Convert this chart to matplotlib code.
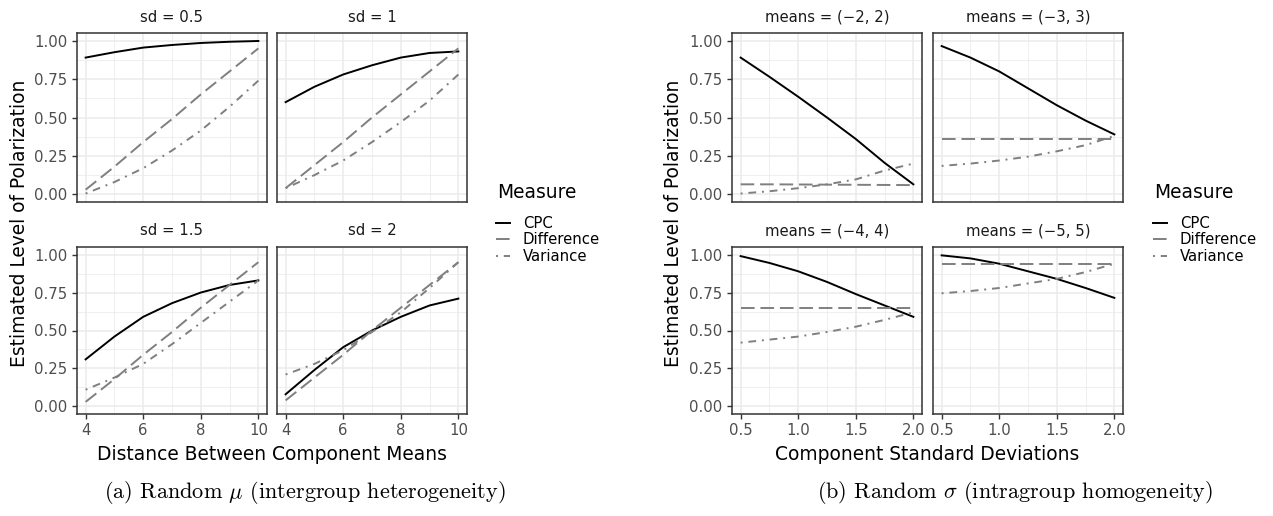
import matplotlib
matplotlib.use("Agg")
import matplotlib.pyplot as plt
from matplotlib.lines import Line2D

plt.rcParams['font.family'] = 'DejaVu Sans'
plt.rcParams['mathtext.fontset'] = 'cm'

# ---- data ----
dist = [4, 5, 6, 7, 8, 9, 10]
sds = [0.5, 0.75, 1.0, 1.25, 1.5, 1.75, 2.0]
measures = ["CPC", "Difference", "Variance"]

sd05_cpc = [0.89, 0.925, 0.955, 0.972, 0.985, 0.993, 0.998]
sd05_diff = [0.03, 0.18, 0.34, 0.49, 0.65, 0.80, 0.95]
sd05_var = [0.005, 0.08, 0.17, 0.285, 0.415, 0.57, 0.74]

sd1_cpc = [0.60, 0.70, 0.78, 0.84, 0.89, 0.92, 0.93]
sd1_diff = [0.04, 0.19, 0.34, 0.50, 0.65, 0.80, 0.95]
sd1_var = [0.04, 0.125, 0.22, 0.34, 0.47, 0.61, 0.78]

sd15_cpc = [0.31, 0.46, 0.59, 0.68, 0.75, 0.80, 0.83]
sd15_diff = [0.03, 0.18, 0.34, 0.49, 0.65, 0.80, 0.95]
sd15_var = [0.11, 0.19, 0.28, 0.41, 0.55, 0.69, 0.83]

sd2_cpc = [0.08, 0.24, 0.39, 0.50, 0.59, 0.665, 0.71]
sd2_diff = [0.04, 0.19, 0.34, 0.50, 0.65, 0.80, 0.95]
sd2_var = [0.21, 0.28, 0.37, 0.49, 0.62, 0.78, 0.95]

m2_cpc = [0.89, 0.765, 0.635, 0.50, 0.36, 0.205, 0.065]
m2_diff = [0.065, 0.065, 0.064, 0.063, 0.062, 0.061, 0.06]
m2_var = [0.005, 0.02, 0.04, 0.065, 0.097, 0.155, 0.20]

m3_cpc = [0.965, 0.89, 0.80, 0.69, 0.58, 0.48, 0.39]
m3_diff = [0.36, 0.36, 0.36, 0.36, 0.36, 0.36, 0.36]
m3_var = [0.185, 0.20, 0.22, 0.245, 0.28, 0.32, 0.38]

m4_cpc = [0.99, 0.945, 0.89, 0.82, 0.74, 0.665, 0.59]
m4_diff = [0.65, 0.65, 0.65, 0.65, 0.65, 0.65, 0.65]
m4_var = [0.42, 0.44, 0.46, 0.49, 0.525, 0.57, 0.62]

m5_cpc = [0.995, 0.975, 0.94, 0.89, 0.84, 0.78, 0.715]
m5_diff = [0.94, 0.94, 0.94, 0.94, 0.94, 0.94, 0.94]
m5_var = [0.745, 0.76, 0.78, 0.81, 0.84, 0.885, 0.94]

left_titles = ["sd = 0.5", "sd = 1", "sd = 1.5", "sd = 2"]
right_titles = ["means = (\u22122, 2)", "means = (\u22123, 3)",
                "means = (\u22124, 4)", "means = (\u22125, 5)"]

# ---- styling ----
W, H = 1273, 516
styles = {
    "CPC": dict(color="black", linestyle="-"),
    "Difference": dict(color="#7f7f7f", linestyle=(0, (7, 3))),
    "Variance": dict(color="#7f7f7f", linestyle=(0, (1, 3, 4, 3))),
}
LW = 1.4
SMALL = 10.7
BIG = 13.4

fig = plt.figure(figsize=(W / 100, H / 100), dpi=100)


def panel(px0, py0, px1, py1, x, series, title, xticks, xlim, show_x, show_y):
    ax = fig.add_axes([px0 / W, 1 - py1 / H, (px1 - px0) / W, (py1 - py0) / H])
    for name, vals in zip(measures, series):
        ax.plot(x, vals, lw=LW, **styles[name])
    ax.set_xlim(*xlim)
    ax.set_ylim(-0.05, 1.05)
    ax.set_xticks(xticks)
    ax.set_xticks([(a + b) / 2 for a, b in zip(xticks[:-1], xticks[1:])], minor=True)
    ax.set_yticks([0, 0.25, 0.5, 0.75, 1.0])
    ax.set_yticks([0.125, 0.375, 0.625, 0.875], minor=True)
    ax.grid(which="major", color="#ebebeb", lw=1.1)
    ax.grid(which="minor", color="#ebebeb", lw=0.55)
    ax.set_axisbelow(True)
    for s in ax.spines.values():
        s.set_color("#333333")
        s.set_linewidth(1.1)
    ax.tick_params(which="minor", length=0)
    ax.tick_params(which="major", length=3.8, width=1.0, color="#333333",
                   labelcolor="#4d4d4d", labelsize=SMALL, pad=3)
    if show_y:
        ax.set_yticklabels(["0.00", "0.25", "0.50", "0.75", "1.00"])
    else:
        ax.tick_params(axis="y", length=0, labelleft=False)
    if not show_x:
        ax.tick_params(axis="x", length=0, labelbottom=False)
    ax.text(0.5, 1 + 16 / (py1 - py0), title, transform=ax.transAxes,
            ha="center", va="center", fontsize=SMALL, color="#1a1a1a")
    return ax


left_series = [(sd05_cpc, sd05_diff, sd05_var), (sd1_cpc, sd1_diff, sd1_var),
               (sd15_cpc, sd15_diff, sd15_var), (sd2_cpc, sd2_diff, sd2_var)]
right_series = [(m2_cpc, m2_diff, m2_var), (m3_cpc, m3_diff, m3_var),
                (m4_cpc, m4_diff, m4_var), (m5_cpc, m5_diff, m5_var)]

cols_left = [(77, 267), (277, 467)]
cols_right = [(732, 922), (933, 1123)]
rows = [(33, 202), (247, 414)]

for i in range(4):
    r, c = divmod(i, 2)
    panel(cols_left[c][0], rows[r][0], cols_left[c][1], rows[r][1], dist,
          left_series[i], left_titles[i], [4, 6, 8, 10], (3.7, 10.3),
          show_x=(r == 1), show_y=(c == 0))
    ax = panel(cols_right[c][0], rows[r][0], cols_right[c][1], rows[r][1], sds,
               right_series[i], right_titles[i], [0.5, 1.0, 1.5, 2.0], (0.425, 2.075),
               show_x=(r == 1), show_y=(c == 0))
    if r == 1:
        ax.set_xticklabels(["0.5", "1.0", "1.5", "2.0"])

# axis titles
fig.text(20 / W, 1 - 223 / H, "Estimated Level of Polarization", rotation=90,
         ha="center", va="center", fontsize=BIG)
fig.text(673 / W, 1 - 223 / H, "Estimated Level of Polarization", rotation=90,
         ha="center", va="center", fontsize=BIG)
fig.text(272 / W, 1 - 455 / H, "Distance Between Component Means",
         ha="center", va="center", fontsize=BIG)
fig.text(927 / W, 1 - 455 / H, "Component Standard Deviations",
         ha="center", va="center", fontsize=BIG)

# legends (title placed separately to get ggplot's gap under it)
handles = [Line2D([], [], lw=LW, **styles[m]) for m in measures]
for lx in (497, 1154):
    fig.text(lx / W, 1 - 193 / H, "Measure", ha="left", va="center", fontsize=BIG)
    fig.legend(handles, measures, loc="upper left",
               bbox_to_anchor=((lx - 1) / W, 1 - 216 / H), frameon=False,
               fontsize=SMALL, handlelength=0.95, handletextpad=0.85,
               labelspacing=0.1, borderpad=0, borderaxespad=0)

# sub-captions
fig.text(305 / W, 1 - 492 / H, r"(a) Random $\mu$ (intergroup heterogeneity)",
         ha="center", va="center", fontsize=16, family="cmr10")
fig.text(1015 / W, 1 - 492 / H, r"(b) Random $\sigma$ (intragroup homogeneity)",
         ha="center", va="center", fontsize=16, family="cmr10")

fig.savefig("out.png", dpi=100)
